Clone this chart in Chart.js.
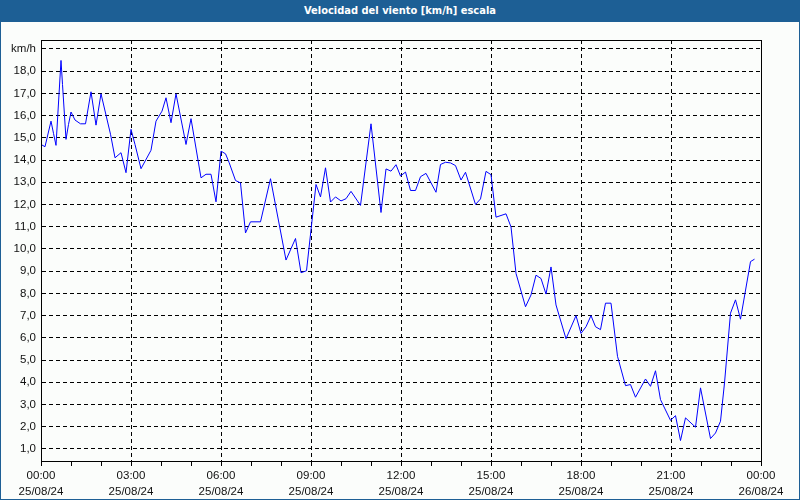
<!DOCTYPE html>
<html>
<head>
<meta charset="utf-8">
<script src="https://cdn.jsdelivr.net/npm/chart.js@4/dist/chart.umd.min.js"></script>
<style>
  body { margin: 0; background: #fbfdfb; }
  #frame { width: 800px; height: 500px; box-sizing: border-box; border: 1px solid #1d5f95; border-top: none; background: #fbfdfb; }
  #title { height: 22px; margin: 0 -1px; background: #1d5f95; color: #fff; font: bold 11px "DejaVu Sans Condensed", sans-serif; text-align: center; line-height: 22px; }
  #box { position: relative; width: 798px; height: 477px; }
</style>
</head>
<body>
<div id="frame">
  <div id="title">Velocidad del viento [km/h] escala</div>
  <div id="box"><canvas id="lineChart"></canvas></div>
</div>
<script>
// minutes since 25/08/24 00:00
var minutes = [0, 8, 20, 25, 30, 40, 43, 50, 55, 60, 68, 79, 89, 100, 110, 120, 139, 148, 160, 170,
  180, 188, 200, 220, 230, 242, 250, 260, 270, 290, 300, 320, 330, 340, 350, 360, 369, 376, 389, 399,
  409, 419, 439, 459, 490, 509, 520, 531, 550, 559, 569, 579, 589, 600, 610, 620, 639, 660, 680, 690,
  700, 710, 719, 729, 739, 749, 759, 770, 790, 799, 809, 819, 829, 840, 849, 869, 879, 890, 900, 910,
  930, 940, 950, 969, 980, 990, 1000, 1010, 1020, 1030, 1050, 1070, 1080, 1090, 1100, 1109, 1119, 1129, 1140, 1153,
  1169, 1179, 1189, 1209, 1219, 1229, 1239, 1259, 1269, 1279, 1289, 1309, 1319, 1339, 1349, 1359, 1367, 1379, 1389, 1399,
  1419, 1427];
var speed = [14.7, 14.6, 15.75, 15.2, 14.66, 18.48, 17.4, 14.93, 15.6, 16.16, 15.8, 15.63, 15.63, 17.07, 15.57, 16.98, 15.16, 14.1, 14.33, 13.43,
  15.38, 14.7, 13.61, 14.44, 15.75, 16.2, 16.8, 15.68, 16.98, 14.7, 15.86, 13.2, 13.36, 13.36, 12.12, 14.4, 14.28, 13.9, 13.08, 12.97,
  10.72, 11.22, 11.22, 13.16, 9.5, 10.47, 8.93, 9.02, 12.9, 12.34, 13.65, 12.11, 12.34, 12.16, 12.26, 12.59, 11.96, 15.63, 11.64, 13.6,
  13.5, 13.79, 13.28, 13.46, 12.63, 12.63, 13.25, 13.4, 12.55, 13.8, 13.9, 13.87, 13.75, 13.1, 13.45, 12.0, 12.25, 13.49, 13.34, 11.43,
  11.58, 10.99, 8.9, 7.4, 7.93, 8.82, 8.67, 7.97, 9.19, 7.48, 5.96, 7.0, 6.2, 6.5, 7.0, 6.5, 6.37, 7.56, 7.56, 5.17,
  3.85, 3.9, 3.33, 4.15, 3.82, 4.52, 3.22, 2.29, 2.5, 1.38, 2.4, 1.98, 3.75, 1.47, 1.72, 2.25, 3.97, 7.11, 7.71, 6.84,
  9.43, 9.54];
var hourLabels = ['00:00', '03:00', '06:00', '09:00', '12:00', '15:00', '18:00', '21:00', '00:00'];
var dateLabels = ['25/08/24', '25/08/24', '25/08/24', '25/08/24', '25/08/24', '25/08/24', '25/08/24', '25/08/24', '26/08/24'];
var yTicks = [1, 2, 3, 4, 5, 6, 7, 8, 9, 10, 11, 12, 13, 14, 15, 16, 17, 18, 19];
var unitLabel = 'km/h';

var points = minutes.map(function (m, i) { return { x: m, y: speed[i] }; });

var framePlugin = {
    id: 'frame',
    afterDraw: function (chart) {
        var a = chart.chartArea, c = chart.ctx;
        c.save();
        c.strokeStyle = '#000';
        c.lineWidth = 1;
        c.strokeRect(Math.round(a.left) + 0.5, Math.round(a.top) + 0.5, Math.round(a.right - a.left), Math.round(a.bottom - a.top));
        c.restore();
    }
};

var ctx = document.getElementById('lineChart').getContext('2d');
var myChart = new Chart(ctx, {
    type: 'line',
    data: {
        datasets: [{
            label: 'Velocidad del viento',
            data: points,
            borderColor: '#0000ff',
            borderWidth: 1,
            pointRadius: 0,
            tension: 0,
            fill: false
        }]
    },
    options: {
        responsive: true,
        maintainAspectRatio: false,
        animation: false,
        layout: { padding: { top: 18, right: 38, left: 0, bottom: 0 } },
        plugins: { legend: { display: false }, tooltip: { enabled: false } },
        scales: {
            x: {
                type: 'linear',
                min: 0,
                max: 1440,
                afterBuildTicks: function (s) {
                    var t = [];
                    for (var m = 0; m <= 1440; m += 60) t.push({ value: m });
                    s.ticks = t;
                },
                afterFit: function (s) { s.height = 38; },
                grid: {
                    color: function (c) { return c.tick && c.tick.value % 180 === 0 ? '#000' : 'rgba(0,0,0,0)'; },
                    tickColor: '#000',
                    tickLength: 5,
                    lineWidth: 1
                },
                border: { color: '#000', width: 1, dash: [4, 3] },
                ticks: {
                    autoSkip: false,
                    maxRotation: 0,
                    padding: 2,
                    color: '#111',
                    font: { family: 'Liberation Sans', size: 11.5, lineHeight: 1.4 },
                    callback: function (v) {
                        if (v % 180 !== 0) return '';
                        var i = v / 180;
                        return [hourLabels[i], dateLabels[i]];
                    }
                }
            },
            y: {
                min: 0.46,
                max: 19.4,
                afterBuildTicks: function (s) {
                    s.ticks = yTicks.map(function (v) { return { value: v }; });
                },
                afterFit: function (s) { s.width = 40; },
                grid: { color: '#000', drawTicks: false, lineWidth: 1 },
                border: { color: '#000', width: 1, dash: [4, 3] },
                ticks: {
                    padding: 5,
                    color: '#111',
                    font: { family: 'Liberation Sans', size: 11.5 },
                    callback: function (v) {
                        if (v === 19) return unitLabel;
                        return v.toFixed(1).replace('.', ',');
                    }
                }
            }
        }
    },
    plugins: [framePlugin]
});
</script>
</body>
</html>
